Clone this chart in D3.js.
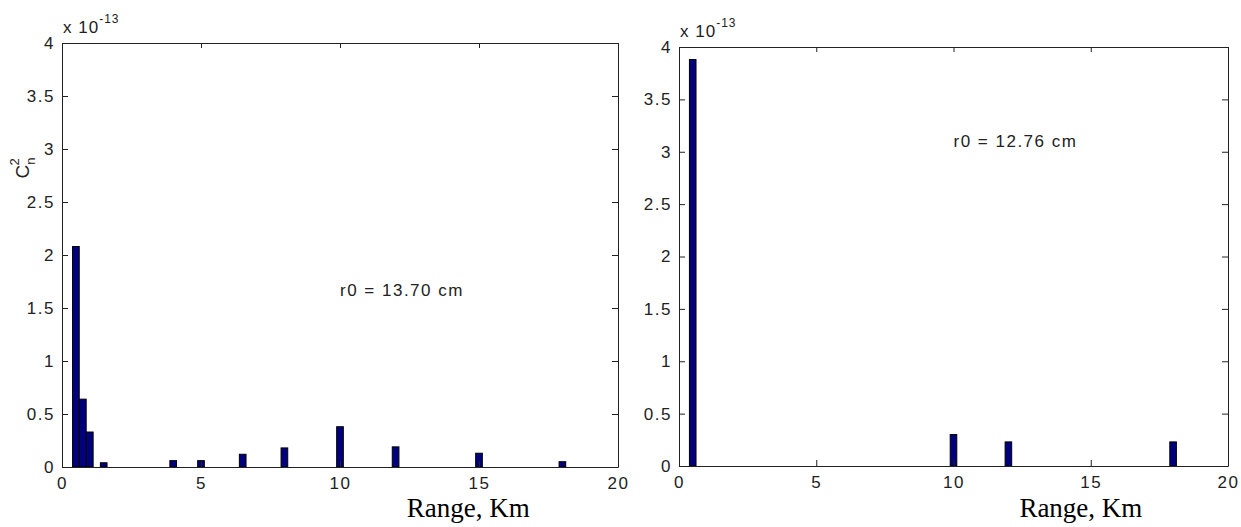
<!DOCTYPE html>
<html>
<head>
    <meta charset="utf-8">
    <title>Cn2 vs range</title>
    <script src="https://d3js.org/d3.v7.min.js"></script>
    <style>
        body { margin: 0; background: #fff; }
        svg { font-family: "Liberation Sans", Arial, sans-serif; }
        .tick text { font-size: 17px; fill: #222; letter-spacing: 1.5px; }
        .tick line, .domain { stroke: #222; }
    </style>
</head>
<body>
<script>
    // values, in units of 1e-13
    var leftRange = [0.5, 0.75, 1.0, 1.5, 4, 5, 6.5, 8, 10, 12, 15, 18];
    var leftCn2   = [2.08, 0.64, 0.33, 0.04, 0.06, 0.06, 0.12, 0.18, 0.38, 0.19, 0.13, 0.05];
    var rightRange = [0.5, 10, 12, 18];
    var rightCn2   = [3.88, 0.30, 0.23, 0.23];

    var xTicks = [0, 5, 10, 15, 20];
    var yTicks = [0, 0.5, 1, 1.5, 2, 2.5, 3, 3.5, 4];
    var leftNote = "r0 = 13.70 cm";
    var rightNote = "r0 = 12.76 cm";

    var barWidth = 0.24;   // in km

    var svg = d3.select("body").append("svg")
        .attr("width", 1241)
        .attr("height", 527);

    var panels = [
        { x0: 62, x1: 618, y0: 43, y1: 467, xs: leftRange, ys: leftCn2,
          note: leftNote, noteAt: [10, 1.61], ylabel: true },
        { x0: 679, x1: 1228, y0: 47, y1: 466, xs: rightRange, ys: rightCn2,
          note: rightNote, noteAt: [10, 3.05], ylabel: false }
    ];

    panels.forEach(function (p) {
        var x = d3.scaleLinear().domain([0, 20]).range([p.x0, p.x1]);
        var y = d3.scaleLinear().domain([0, 4]).range([p.y1, p.y0]);

        var g = svg.append("g");

        // bars
        g.selectAll("rect.bar")
            .data(p.xs.map(function (d, i) { return { r: d, v: p.ys[i] }; }))
            .enter().append("rect")
            .attr("class", "bar")
            .attr("x", function (d) { return x(d.r - barWidth / 2); })
            .attr("width", function (d) { return x(barWidth) - x(0); })
            .attr("y", function (d) { return y(d.v); })
            .attr("height", function (d) { return y(0) - y(d.v); })
            .style("fill", "#00007f")
            .style("stroke", "#000")
            .style("stroke-width", 1);

        // axes, ticks pointing inward on all four sides
        g.append("g")
            .attr("transform", "translate(0," + p.y1 + ")")
            .call(d3.axisBottom(x).tickValues(xTicks).tickSizeInner(-6).tickSizeOuter(0).tickPadding(10));
        g.append("g")
            .attr("transform", "translate(0," + p.y0 + ")")
            .call(d3.axisTop(x).tickValues(xTicks).tickFormat("").tickSizeInner(-5).tickSizeOuter(0));
        g.append("g")
            .attr("transform", "translate(" + p.x0 + ",0)")
            .call(d3.axisLeft(y).tickValues(yTicks).tickFormat(d3.format("")).tickSizeInner(-6).tickSizeOuter(0).tickPadding(7));
        g.append("g")
            .attr("transform", "translate(" + p.x1 + ",0)")
            .call(d3.axisRight(y).tickValues(yTicks).tickFormat("").tickSizeInner(-6).tickSizeOuter(0));

        g.selectAll(".tick text").style("font-family", "'Liberation Sans', Arial, sans-serif");

        // exponent label
        var ex = g.append("text")
            .attr("x", p.x0 + 1)
            .attr("y", p.y0 - 10)
            .style("font-size", "17px")
            .style("fill", "#222")
            .style("letter-spacing", "1px");
        ex.append("tspan").text("x 10");
        ex.append("tspan").attr("dy", -10).style("font-size", "12px").text("-13");

        // r0 note
        g.append("text")
            .attr("x", x(p.noteAt[0]))
            .attr("y", y(p.noteAt[1]))
            .style("font-size", "17px")
            .style("fill", "#222")
            .style("letter-spacing", "1.5px")
            .text(p.note);

        // x label
        g.append("text")
            .attr("x", x(12.4))
            .attr("y", 517)
            .style("font-family", "'Liberation Serif', 'Times New Roman', serif")
            .style("font-size", "27px")
            .style("fill", "#000")
            .text("Range, Km");

        if (p.ylabel) {
            var yl = g.append("text")
                .attr("transform", "translate(29,168) rotate(-90)")
                .attr("text-anchor", "middle")
                .style("font-size", "19px")
                .style("fill", "#222");
            yl.append("tspan").text("C");
            yl.append("tspan").attr("dy", 6).style("font-size", "13px").text("n");
            yl.append("tspan").attr("dx", -8).attr("dy", -16).style("font-size", "13px").text("2");
        }
    });
</script>
</body>
</html>
